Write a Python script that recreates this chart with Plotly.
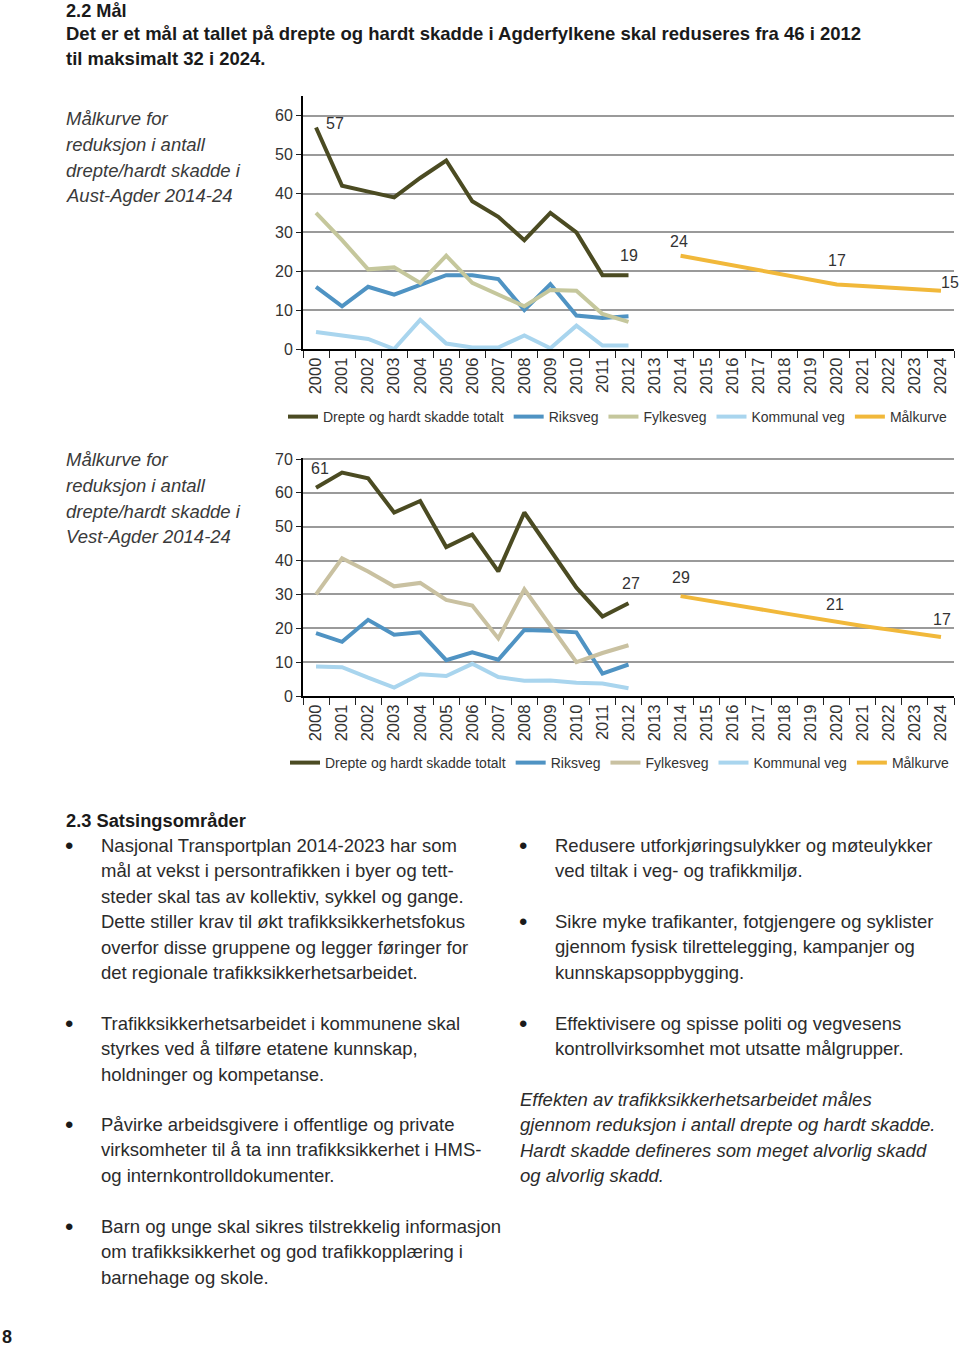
import plotly.graph_objects as go

W, H = 960, 1350

# ---------------- data ----------------
years = [str(y) for y in range(2000, 2025)]
hist_years = years[:13]          # 2000-2012
goal_years = years[14:]          # 2014-2024

series_names = ["Drepte og hardt skadde totalt", "Riksveg", "Fylkesveg", "Kommunal veg", "Målkurve"]

aust_total = [57, 42, 40.5, 39, 44, 48.5, 38, 34, 28, 35, 30, 19, 19]
aust_riks = [16, 11, 16, 14, 16.5, 19, 19, 18, 10, 16.7, 8.6, 8, 8.4]
aust_fylke = [35, 28, 20.5, 21, 17, 24, 17, 14, 11, 15.2, 15, 9, 7]
aust_kommune = [4.4, 3.5, 2.6, 0, 7.5, 1.4, 0.4, 0.4, 3.5, 0.2, 6, 0.9, 0.9]
aust_goal = [24, 22.8, 21.6, 20.3, 19, 17.8, 16.6, 16.2, 15.8, 15.4, 15]

vest_total = [61.5, 66, 64.3, 54.2, 57.6, 44, 47.7, 36.8, 54.2, 43, 32, 23.5, 27.4]
vest_riks = [18.6, 16, 22.5, 18.1, 18.8, 10.6, 12.9, 10.7, 19.5, 19.3, 18.8, 6.6, 9.3]
vest_fylke = [30, 40.7, 36.8, 32.4, 33.4, 28.4, 26.7, 17, 31.5, 20.7, 10, 12.7, 15]
vest_kommune = [8.7, 8.5, 5.4, 2.5, 6.4, 5.9, 9.5, 5.6, 4.5, 4.6, 3.9, 3.7, 2.3]
vest_goal = [29.5, 28.3, 27, 25.7, 24.4, 23.1, 21.9, 20.7, 19.6, 18.5, 17.4]

# point labels: (year, value, text)
aust_label_years = ["2000", "2012", "2014", "2020", "2024"]
aust_label_vals = [57, 19, 24, 16.6, 15]
aust_label_text = ["57", "19", "24", "17", "15"]
vest_label_years = ["2000", "2012", "2014", "2020", "2024"]
vest_label_vals = [61.5, 27.4, 29.5, 21.9, 17.4]
vest_label_text = ["61", "27", "29", "21", "17"]

aust_yticks = [0, 10, 20, 30, 40, 50, 60]
vest_yticks = [0, 10, 20, 30, 40, 50, 60, 70]

# ---------------- styles ----------------
C_TOTAL = "#4b4b22"
C_RIKS = "#4f93c3"
C_FYLKE_A = "#c5c79c"
C_FYLKE_V = "#c9c1a1"
C_KOMM = "#a9d5ee"
C_GOAL = "#f1b83a"
LW = 4
FONT = "Liberation Sans, Arial, sans-serif"
TXT = "#2b2b2b"
BODY = 18.5

# observed vertical mapping of the page (compensated here)
OFF = 8.0
SC = 1334.0 / 1350.0

def px(x):
    return x / W

def py(y):
    return 1 - ((y - OFF) / SC) / H

fig = go.Figure()

def add_chart(xa, ya, legend, total, riks, fylke, komm, goal, fylke_color):
    cols = [C_TOTAL, C_RIKS, fylke_color, C_KOMM]
    data = [total, riks, fylke, komm]
    for name, vals, col in zip(series_names[:4], data, cols):
        fig.add_trace(go.Scatter(x=hist_years, y=vals, mode="lines", name=name,
                                 line=dict(color=col, width=LW), xaxis=xa, yaxis=ya,
                                 legend=legend, hoverinfo="skip"))
    fig.add_trace(go.Scatter(x=goal_years, y=goal, mode="lines", name=series_names[4],
                             line=dict(color=C_GOAL, width=LW), xaxis=xa, yaxis=ya,
                             legend=legend, hoverinfo="skip"))

add_chart("x", "y", "legend", aust_total, aust_riks, aust_fylke, aust_kommune, aust_goal, C_FYLKE_A)
add_chart("x2", "y2", "legend2", vest_total, vest_riks, vest_fylke, vest_kommune, vest_goal, C_FYLKE_V)

xax = dict(type="category", categoryorder="array", categoryarray=years,
           range=[-0.5, 24.5], showline=True, linecolor="black", linewidth=2,
           ticks="outside", tickson="boundaries", ticklen=7, tickcolor="#222", tickwidth=1,
           tickangle=-90, tickfont=dict(size=16.5, color="#333", family=FONT),
           showgrid=False, zeroline=False, fixedrange=True)
yax = dict(showline=True, linecolor="black", linewidth=2, ticks="outside", ticklen=5,
           tickcolor="#222", tickwidth=1, showgrid=True, gridcolor="#9a9a9a", gridwidth=1.5,
           zeroline=False, tickfont=dict(size=16, color="#333", family=FONT), fixedrange=True)

fig.update_layout(
    width=W, height=H, margin=dict(l=0, r=0, t=0, b=0),
    paper_bgcolor="white", plot_bgcolor="white",
    font=dict(family=FONT, color=TXT),
    xaxis=dict(xax, domain=[px(303), px(954)], anchor="y"),
    yaxis=dict(yax, domain=[py(350), py(97)], range=[0, 65.1], tickvals=aust_yticks, anchor="x"),
    xaxis2=dict(xax, domain=[px(303), px(954)], anchor="y2"),
    yaxis2=dict(yax, domain=[py(697), py(459)], range=[0, 70.3], tickvals=vest_yticks, anchor="x2"),
    legend=dict(orientation="h", x=px(283), y=py(418), xanchor="left", yanchor="middle",
                font=dict(size=14, color="#333", family=FONT), bgcolor="rgba(0,0,0,0)"),
    legend2=dict(orientation="h", x=px(285), y=py(764), xanchor="left", yanchor="middle",
                 font=dict(size=14, color="#333", family=FONT), bgcolor="rgba(0,0,0,0)"),
    showlegend=True,
    modebar=dict(bgcolor="rgba(0,0,0,0)", color="rgba(0,0,0,0)", activecolor="rgba(0,0,0,0)"),
)

# point labels (category index positions on the axis)
a_shift = [(19, 4), (0, 20), (-2, 14), (0, 24), (9, 8)]
v_shift = [(4, 19), (2, 20), (0, 19), (-2, 17), (1, 18)]
for (yr, v, t), (dx, dy) in zip(zip(aust_label_years, aust_label_vals, aust_label_text), a_shift):
    fig.add_annotation(x=years.index(yr), y=v, xref="x", yref="y", text=t, showarrow=False,
                       xshift=dx, yshift=dy, font=dict(size=16, color="#333"))
for (yr, v, t), (dx, dy) in zip(zip(vest_label_years, vest_label_vals, vest_label_text), v_shift):
    fig.add_annotation(x=years.index(yr), y=v, xref="x2", yref="y2", text=t, showarrow=False,
                       xshift=dx, yshift=dy, font=dict(size=16, color="#333"))

def text(x, y, s, size=BODY, color=TXT, anchor="left"):
    fig.add_annotation(x=px(x), y=py(y), xref="paper", yref="paper", text=s,
                       showarrow=False, xanchor=anchor, yanchor="middle",
                       font=dict(size=size, color=color, family=FONT))

# headings
text(64, 12, "<b>2.2 Mål</b>", size=18.2, color="#1a1a1a")
text(64, 34, "<b>Det er et mål at tallet på drepte og hardt skadde i Agderfylkene skal reduseres fra 46 i 2012</b>", size=18.5, color="#1a1a1a")
text(64, 59, "<b>til maksimalt 32 i 2024.</b>", size=18.5, color="#1a1a1a")

# chart titles
aust_title = ["Målkurve for", "reduksjon i antall", "drepte/hardt skadde i", "Aust-Agder 2014-24"]
vest_title = ["Målkurve for", "reduksjon i antall", "drepte/hardt skadde i", "Vest-Agder 2014-24"]
for i, line in enumerate(aust_title):
    text(64, 120 + i * 25.5, "<i>" + line + "</i>", size=18.5, color="#3a3a3a")
for i, line in enumerate(vest_title):
    text(64, 461 + i * 25.5, "<i>" + line + "</i>", size=18.5, color="#3a3a3a")

# section 2.3
text(64, 821, "<b>2.3 Satsingsområder</b>", size=18.3, color="#1a1a1a")

LH = 25.5
left_blocks = [
    (846, ["Nasjonal Transportplan 2014-2023 har som",
           "mål at vekst i persontrafikken i byer og tett-",
           "steder skal tas av kollektiv, sykkel og gange.",
           "Dette stiller krav til økt trafikksikkerhetsfokus",
           "overfor disse gruppene og legger føringer for",
           "det regionale trafikksikkerhetsarbeidet."]),
    (1024, ["Trafikksikkerhetsarbeidet i kommunene skal",
            "styrkes ved å tilføre etatene kunnskap,",
            "holdninger og kompetanse."]),
    (1125, ["Påvirke arbeidsgivere i offentlige og private",
            "virksomheter til å ta inn trafikksikkerhet i HMS-",
            "og internkontrolldokumenter."]),
    (1227, ["Barn og unge skal sikres tilstrekkelig informasjon",
            "om trafikksikkerhet og god trafikkopplæring i",
            "barnehage og skole."]),
]
right_blocks = [
    (846, ["Redusere utforkjøringsulykker og møteulykker",
           "ved tiltak i veg- og trafikkmiljø."]),
    (922, ["Sikre myke trafikanter, fotgjengere og syklister",
           "gjennom fysisk tilrettelegging, kampanjer og",
           "kunnskapsoppbygging."]),
    (1024, ["Effektivisere og spisse politi og vegvesens",
            "kontrollvirksomhet mot utsatte målgrupper."]),
]
for y0, lines in left_blocks:
    text(63, y0, "•", size=24, color="#1a1a1a")
    for i, line in enumerate(lines):
        text(99, y0 + i * LH, line)
for y0, lines in right_blocks:
    text(517, y0, "•", size=24, color="#1a1a1a")
    for i, line in enumerate(lines):
        text(553, y0 + i * LH, line)

italic_par = ["Effekten av trafikksikkerhetsarbeidet måles",
              "gjennom reduksjon i antall drepte og hardt skadde.",
              "Hardt skadde defineres som meget alvorlig skadd",
              "og alvorlig skadd."]
for i, line in enumerate(italic_par):
    text(518, 1100 + i * LH, "<i>" + line + "</i>")

text(0, 1338, "<b>8</b>", size=18, color="#1a1a1a")

fig.write_html(
    "out.html",
    config={"displayModeBar": False},
    post_script=(
        "document.documentElement.style.margin='0';"
        "document.body.style.margin='0';document.body.style.padding='0';"
        "document.body.style.overflow='hidden';"
        "var d=document.querySelector('.plotly-graph-div');"
        "d.style.position='fixed';d.style.top='0';d.style.left='0';"
    ),
)
